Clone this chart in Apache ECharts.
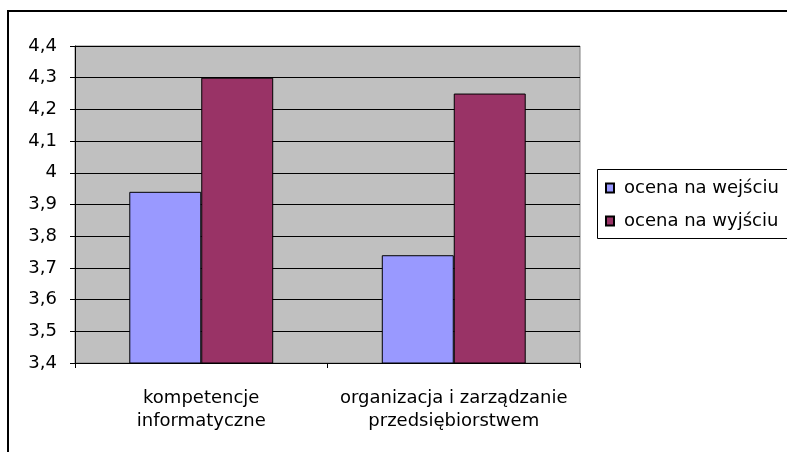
<!DOCTYPE html>
<html>
<head>
<meta charset="utf-8">
<script src="https://cdn.jsdelivr.net/npm/echarts@6/dist/echarts.min.js"></script>
<style>
html,body{margin:0;padding:0;background:#fff;}
#c{width:787px;height:452px;}
</style>
</head>
<body>
<div id="c"></div>
<script>
var categories = ['kompetencje\ninformatyczne', 'organizacja i zarządzanie\nprzedsiębiorstwem'];
var seriesNames = ['ocena na wejściu', 'ocena na wyjściu'];
var entryScores = [3.94, 3.74];
var exitScores = [4.30, 4.25];
var yMin = 3.4, yMax = 4.4, yStep = 0.1;

var FONT = 'DejaVu Sans';
var chart = echarts.init(document.getElementById('c'), null, {renderer: 'canvas'});
chart.setOption({
  animation: false,
  backgroundColor: '#ffffff',
  textStyle: {fontFamily: FONT, color: '#000'},
  graphic: [{
    type: 'rect',
    shape: {x: 8, y: 11, width: 900, height: 600},
    style: {fill: 'none', stroke: '#000', lineWidth: 2},
    silent: true, z: 100
  }, {
    type: 'rect',
    shape: {x: 597.5, y: 169.5, width: 400, height: 69},
    style: {fill: '#fff', stroke: '#000', lineWidth: 1},
    silent: true, z: 0
  }],
  grid: {
    left: 75, right: 207, top: 46, bottom: 89,
    show: true, backgroundColor: '#C0C0C0', borderColor: '#808080', borderWidth: 1
  },
  legend: {
    orient: 'vertical',
    left: 597, top: 169,
    padding: [9, 0, 7, 8],
    itemGap: 13,
    itemWidth: 8, itemHeight: 9,
    z: 10,
    textStyle: {fontFamily: FONT, fontSize: 18, lineHeight: 20, color: '#000', padding: [0, 0, 0, 5]},
    data: seriesNames.map(function (n) { return {name: n, icon: 'rect'}; })
  },
  xAxis: {
    type: 'category',
    data: categories,
    axisLine: {show: true, lineStyle: {color: '#000', width: 1}},
    axisTick: {show: true, length: 5, lineStyle: {color: '#000'}},
    axisLabel: {fontFamily: FONT, fontSize: 18, color: '#000', margin: 24, lineHeight: 23, interval: 0},
    splitLine: {show: false}
  },
  yAxis: {
    type: 'value',
    min: yMin, max: yMax, interval: yStep,
    axisLine: {show: true, lineStyle: {color: '#000', width: 1}},
    axisTick: {show: true, length: 5, lineStyle: {color: '#000'}},
    axisLabel: {
      fontFamily: FONT, fontSize: 18, color: '#000', margin: 18,
      formatter: function (v) {
        var s = (Math.round(v * 10) / 10).toString();
        return s.replace('.', ',');
      }
    },
    splitLine: {show: true, lineStyle: {color: '#000', width: 1}}
  },
  series: [{
    name: seriesNames[0], type: 'bar', data: entryScores,
    barGap: '0%', barCategoryGap: '43%',
    itemStyle: {color: '#9999FF', borderColor: '#000', borderWidth: 1}
  }, {
    name: seriesNames[1], type: 'bar', data: exitScores,
    barGap: '0%', barCategoryGap: '43%',
    itemStyle: {color: '#993366', borderColor: '#000', borderWidth: 1}
  }]
});
</script>
</body>
</html>
